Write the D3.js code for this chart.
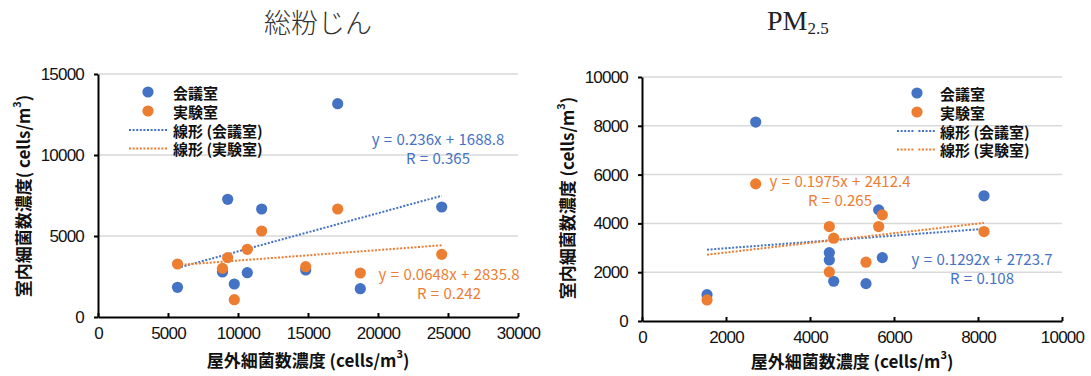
<!DOCTYPE html>
<html>
<head>
<meta charset="utf-8">
<script src="https://cdn.jsdelivr.net/npm/d3@7"></script>
<style>
  body { margin: 0; background: #fff; }
  svg { display: block; font-family: "Noto Sans CJK JP", "Noto Sans", sans-serif; }
  .grid line { stroke: #d9d9d9; stroke-width: 1.5; }
  .axis path, .axis line { stroke: #000; stroke-width: 2; }
  .axis text { font-size: 17px; fill: #111; letter-spacing: -0.8px; }
  .lg { font-size: 15px; font-weight: bold; fill: #111; }
  .eq { font-size: 15px; word-spacing: 1px; }
  .atitle { font-size: 17px; font-weight: bold; fill: #111; }
</style>
</head>
<body>
<svg id="chart" width="1091" height="376"></svg>
<script>
var seriesNames = ["会議室", "実験室"];
var seriesColors = ["#4472C4", "#ED7D31"];

// 総粉じん
var dustOutdoor = [5680, 8890, 9264, 9736, 10664, 11690, 14836, 17121, 18736, 24550];
var dustMeeting = [1833, 2778, 7265, 2037, 2735, 6667, 2901, 13167, 1747, 6790];
var dustLab     = [3272, 3004, 3663, 1070, 4177, 5309, 3107, 6667, 2716, 3868];
var dustSlope = [0.236, 0.0648];
var dustIntercept = [1688.8, 2835.8];
var dustEq = [["y = 0.236x + 1688.8", "R = 0.365"], ["y = 0.0648x + 2835.8", "R = 0.242"]];
var dustXTicks = [0, 5000, 10000, 15000, 20000, 25000, 30000];
var dustYTicks = [0, 5000, 10000, 15000];

// PM2.5
var pmOutdoor = [1548, 2707, 4460, 4460, 4564, 5333, 5635, 5722, 8143];
var pmMeeting = [1080, 8153, 2803, 2503, 1629, 1531, 4555, 2598, 5130];
var pmLab     = [862, 5621, 3870, 2010, 3393, 2409, 3870, 4350, 3666];
var pmSlope = [0.1292, 0.1975];
var pmIntercept = [2723.7, 2412.4];
var pmEq = [["y = 0.1292x + 2723.7", "R = 0.108"], ["y = 0.1975x + 2412.4", "R = 0.265"]];
var pmXTicks = [0, 2000, 4000, 6000, 8000, 10000];
var pmYTicks = [0, 2000, 4000, 6000, 8000, 10000];

var svg = d3.select("#chart");

function drawChart(c) {
    var x = d3.scaleLinear().domain(c.xDomain).range([c.left, c.right]);
    var y = d3.scaleLinear().domain(c.yDomain).range([c.bottom, c.top]);
    var g = svg.append("g");

    // gridlines
    g.append("g").attr("class", "grid")
        .selectAll("line").data(c.yTicks.filter(function (d) { return d > 0; }))
        .enter().append("line")
        .attr("x1", c.left).attr("x2", c.right)
        .attr("y1", function (d) { return y(d); })
        .attr("y2", function (d) { return y(d); });

    // axes
    g.append("g").attr("class", "axis")
        .attr("transform", "translate(0," + c.bottom + ")")
        .call(d3.axisBottom(x).tickValues(c.xTicks).tickFormat(d3.format("d"))
            .tickSizeInner(-4).tickSizeOuter(0).tickPadding(10));
    g.append("g").attr("class", "axis")
        .attr("transform", "translate(" + c.left + ",0)")
        .call(d3.axisLeft(y).tickValues(c.yTicks).tickFormat(d3.format("d"))
            .tickSizeInner(4).tickSizeOuter(0).tickPadding(10));

    // trend lines
    var xs = d3.extent(c.xs);
    c.slope.forEach(function (s, i) {
        var pts = xs.map(function (v) { return [v, s * v + c.intercept[i]]; });
        g.append("path")
            .datum(pts)
            .attr("fill", "none")
            .attr("stroke", seriesColors[i])
            .attr("stroke-width", 2)
            .attr("stroke-dasharray", "2,1.6")
            .attr("d", d3.line().x(function (d) { return x(d[0]); }).y(function (d) { return y(d[1]); }));
    });

    // points
    c.ys.forEach(function (vals, i) {
        g.append("g").selectAll("circle").data(vals).enter().append("circle")
            .attr("cx", function (d, j) { return x(c.xs[j]); })
            .attr("cy", function (d) { return y(d); })
            .attr("r", 5.6)
            .attr("fill", seriesColors[i]);
    });

    // equations
    c.eq.forEach(function (lines, i) {
        var p = c.eqPos[i];
        lines.forEach(function (t, k) {
            g.append("text").attr("class", "eq")
                .attr("x", p[0]).attr("y", p[1] + k * 19)
                .attr("text-anchor", "middle")
                .attr("dominant-baseline", "central")
                .attr("fill", seriesColors[i])
                .text(t);
        });
    });

    // legend
    var L = c.legend;
    seriesNames.forEach(function (n, i) {
        var yy = L.y + i * 19;
        g.append("circle").attr("cx", L.mx).attr("cy", yy).attr("r", 5.6).attr("fill", seriesColors[i]);
        g.append("text").attr("class", "lg").attr("x", L.tx).attr("y", yy)
            .attr("dominant-baseline", "central").text(n);
    });
    seriesNames.forEach(function (n, i) {
        var yy = L.y + 38 + i * 18.5;
        g.append("line").attr("x1", L.lx0).attr("x2", L.lx1).attr("y1", yy).attr("y2", yy)
            .attr("stroke", seriesColors[i]).attr("stroke-width", 2)
            .attr("stroke-dasharray", L.dash);
        g.append("text").attr("class", "lg").attr("x", L.tx).attr("y", yy)
            .attr("dominant-baseline", "central").text("線形 (" + n + ")");
    });

    // axis titles
    var yt = g.append("text").attr("class", "atitle")
        .attr("transform", "translate(" + c.yTitle[0] + "," + c.yTitle[1] + ") rotate(-90)")
        .attr("text-anchor", "middle").attr("dominant-baseline", "central");
    yt.append("tspan").text(c.yTitleText);
    yt.append("tspan").attr("font-size", "11px").attr("dy", "-6").text("3");
    yt.append("tspan").attr("dy", "6").text(")");

    var xt = g.append("text").attr("class", "atitle")
        .attr("x", c.xTitle[0]).attr("y", c.xTitle[1])
        .attr("text-anchor", "middle").attr("dominant-baseline", "central");
    xt.append("tspan").text("屋外細菌数濃度 (cells/m");
    xt.append("tspan").attr("font-size", "11px").attr("dy", "-6").text("3");
    xt.append("tspan").attr("dy", "6").text(")");
}

drawChart({
    left: 98, right: 518, top: 74, bottom: 317,
    xDomain: [0, 30000], yDomain: [0, 15000],
    xTicks: dustXTicks, yTicks: dustYTicks,
    xs: dustOutdoor, ys: [dustMeeting, dustLab],
    slope: dustSlope, intercept: dustIntercept,
    eq: dustEq, eqPos: [[438, 138], [449, 273]],
    legend: { mx: 148, tx: 173, y: 92, lx0: 129, lx1: 168, dash: "2,1.6" },
    yTitle: [22, 196], yTitleText: "室内細菌数濃度( cells/m",
    xTitle: [308, 359]
});

drawChart({
    left: 642, right: 1062, top: 77, bottom: 321,
    xDomain: [0, 10000], yDomain: [0, 10000],
    xTicks: pmXTicks, yTicks: pmYTicks,
    xs: pmOutdoor, ys: [pmMeeting, pmLab],
    slope: pmSlope, intercept: pmIntercept,
    eq: pmEq, eqPos: [[982, 258], [840, 180]],
    legend: { mx: 917, tx: 940, y: 93, lx0: 897, lx1: 935, dash: "2 1.6 2 1.6 2 1.6 2 1.6 2 5" },
    yTitle: [566, 198], yTitleText: "室内細菌数濃度 (cells/m",
    xTitle: [852, 360]
});

// chart titles
svg.append("text")
    .attr("x", 318).attr("y", 21)
    .attr("text-anchor", "middle").attr("dominant-baseline", "central")
    .attr("font-size", "27px").attr("font-weight", 300).attr("fill", "#333")
    .text("総粉じん");

var pm = svg.append("text")
    .attr("x", 767).attr("y", 30)
    .attr("font-family", "'Liberation Serif', serif")
    .attr("font-size", "28px").attr("fill", "#222");
pm.append("tspan").text("PM");
pm.append("tspan").attr("font-size", "17px").attr("dy", "3.5").text("2.5");
</script>
</body>
</html>
